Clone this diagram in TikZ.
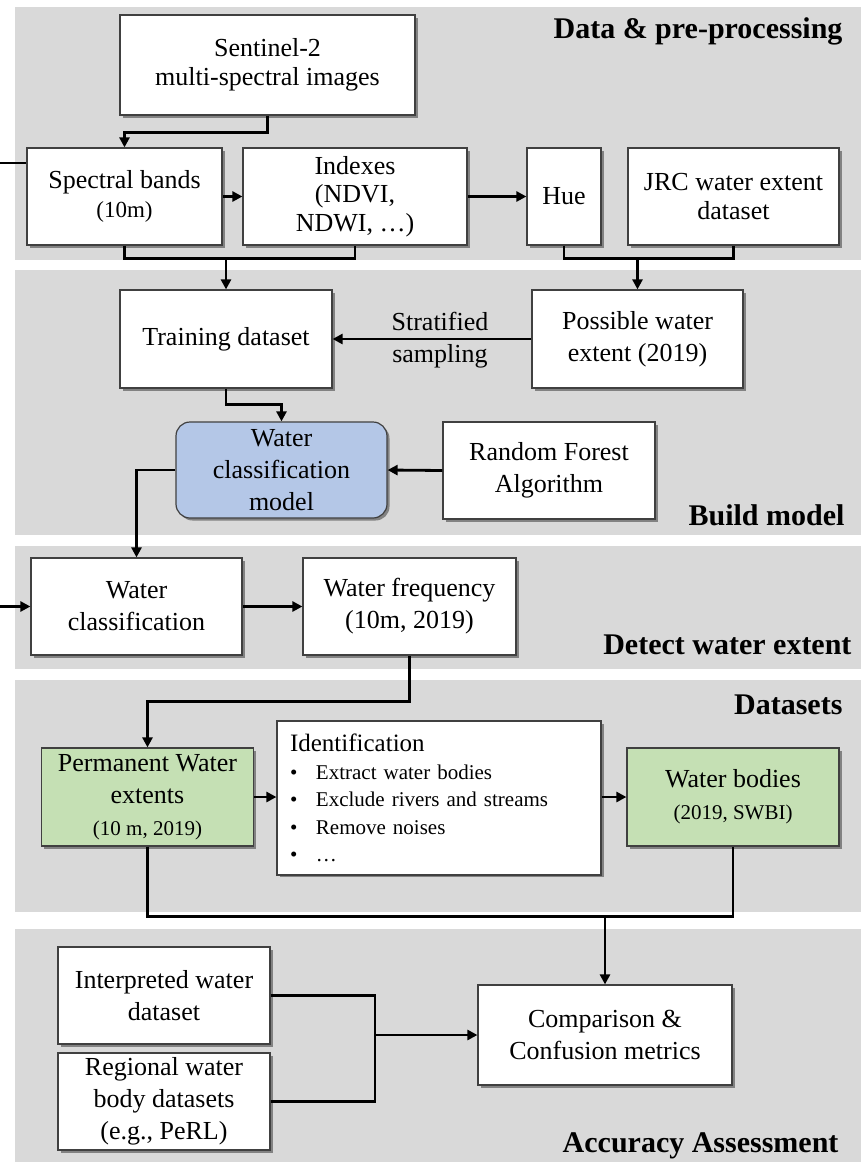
\documentclass[tikz,border=0pt]{standalone}
\usepackage{fontspec}
\setmainfont{Liberation Serif}
\usepackage{tikz}
\usetikzlibrary{arrows.meta, shadows}
\definecolor{panelGray}{HTML}{D9D9D9}
\definecolor{modelBlue}{HTML}{B4C7E7}
\definecolor{dataGreen}{HTML}{C5E0B4}
\definecolor{edgeGray}{HTML}{404040}
\newcommand{\smalltxt}{\fontsize{23}{26}\selectfont}
\newcommand{\tinytxt}{\fontsize{21}{24}\selectfont}

\begin{document}
\begin{tikzpicture}[x=1pt, y=-1pt,
    panel/.style={fill=panelGray, draw=none},
    box/.style={draw=edgeGray, line width=1.2pt, fill=white, align=center, inner sep=3pt,
        font=\fontsize{26}{28.5}\selectfont,
        drop shadow={shadow xshift=2.5pt, shadow yshift=-2.5pt, fill=black, opacity=0.4}},
    tallbox/.style={box, font=\fontsize{26}{32}\selectfont},
    heading/.style={anchor=east, font=\bfseries\fontsize{30}{34}\selectfont},
    link/.style={line width=2.8pt},
    arr/.style={link, -{Triangle[length=10pt, width=10pt]}}]
    \useasboundingbox (0,0) rectangle (861,1162);
    % grey panels
    \fill[panel] (15,7) rectangle (861,260);
    \fill[panel] (15,270) rectangle (861,535);
    \fill[panel] (15,546) rectangle (861,669);
    \fill[panel] (15,680) rectangle (861,912);
    \fill[panel] (15,929) rectangle (861,1162);
    \node[heading] (hData) at (846,31) {Data \& pre-processing};
    \node[heading] (hBuild) at (848,515) {Build model};
    \node[heading] (hDetect) at (855,645) {Detect water extent};
    \node[heading] (hSets) at (846,705) {Datasets};
    \node[heading] (hAcc) at (842,1146) {Accuracy Assessment};

    % data & pre-processing
    \node[box, minimum width=295pt, minimum height=100pt] (sentinel) at (267.5,65) {Sentinel-2\\multi-spectral images};
    \node[box, minimum width=195pt, minimum height=97pt] (bands) at (124.5,196.5) {Spectral bands\\{\smalltxt (10m)}};
    \node[box, minimum width=224pt, minimum height=97pt] (indexes) at (355,196.5) {Indexes\\(NDVI,\\NDWI, \dots)};
    \node[box, minimum width=74pt, minimum height=97pt] (hue) at (564,196.5) {Hue};
    \node[box, minimum width=211pt, minimum height=97pt] (jrc) at (733.5,196.5) {JRC water extent\\dataset};

    % build model
    \node[box, minimum width=212pt, minimum height=98pt] (training) at (226,339) {Training dataset};
    \node[tallbox, minimum width=211pt, minimum height=98pt] (possible) at (637.5,339) {Possible water\\extent (2019)};
    \node[tallbox, fill=modelBlue, rounded corners=14pt, minimum width=211pt, minimum height=96pt] (model) at (281.5,470) {Water\\classification\\model};
    \node[tallbox, minimum width=212pt, minimum height=97pt] (forest) at (549,470.5) {Random Forest\\Algorithm};

    % detect water extent
    \node[tallbox, minimum width=211pt, minimum height=97pt] (wclass) at (136.5,606.5) {Water\\classification};
    \node[tallbox, minimum width=213pt, minimum height=97pt] (wfreq) at (409.5,606.5) {Water frequency\\(10m, 2019)};

    % datasets
    \node[tallbox, fill=dataGreen, minimum width=212pt, minimum height=98pt] (permanent) at (147.5,797) {Permanent Water\\extents\\{\tinytxt (10 m, 2019)}};
    \node[box, align=left, text width=298pt, inner sep=13pt, minimum height=150pt, font=\fontsize{21}{27.5}\selectfont] (ident) at (439,798)
        {{\fontsize{25}{27.5}\selectfont Identification}\\
         \makebox[26pt][l]{\textbullet}Extract water bodies\\
         \makebox[26pt][l]{\textbullet}Exclude rivers and streams\\
         \makebox[26pt][l]{\textbullet}Remove noises\\
         \makebox[26pt][l]{\textbullet}\dots};
    \node[tallbox, fill=dataGreen, minimum width=212pt, minimum height=98pt] (wbodies) at (733,797) {Water bodies\\{\tinytxt (2019, SWBI)}};

    % accuracy assessment
    \node[tallbox, minimum width=212pt, minimum height=97pt] (interp) at (164,995.5) {Interpreted water\\dataset};
    \node[tallbox, minimum width=212pt, minimum height=97pt] (regional) at (164,1101.5) {Regional water\\body datasets\\(e.g., PeRL)};
    \node[tallbox, minimum width=254pt, minimum height=100pt] (compare) at (605,1035) {Comparison \&\\Confusion metrics};

    % connectors
    \coordinate (inA) at (0,163);
    \coordinate (inB) at (0,606.5);
    \draw[link] (inA) -- (bands.west |- inA);
    \draw[arr] (sentinel.south) -- ++(0,17) -| (bands.north);
    \draw[arr] (bands.east) -- (indexes.west);
    \draw[arr] (indexes.east) -- (hue.west);
    \draw[link] (bands.south) -- ++(0,13) -| (indexes.south);
    \draw[arr] (training.north |- bands.south) ++(0,13) -- (training.north);
    \draw[link] (hue.south) -- ++(0,13) -| (jrc.south);
    \draw[arr] (possible.north |- hue.south) ++(0,13) -- (possible.north);
    \draw[arr] (possible.west) -- (training.east)
        node[midway, xshift=8pt, yshift=-1pt, align=center, font=\fontsize{26}{32}\selectfont] (strat) {Stratified\\sampling};
    \draw[arr] (training.south) -- ++(0,16) -| (model.north);
    \draw[arr] (forest.west) -- (model.east);
    \draw[arr] (model.west) -| (wclass.north);
    \draw[arr] (inB) -- (wclass.west);
    \draw[arr] (wclass.east) -- (wfreq.west);
    \draw[arr] (wfreq.south) -- ++(0,46) -| (permanent.north);
    \draw[arr] (permanent.east) -- (ident.west |- permanent.east);
    \draw[arr] (ident.east |- wbodies.west) -- (wbodies.west);
    \draw[link] (permanent.south) -- ++(0,70) -| (wbodies.south);
    \draw[arr] (compare.north |- permanent.south) ++(0,70) -- (compare.north);
    \coordinate (jc) at (375,1035);
    \draw[link] (interp.east) -| (jc) |- (regional.east);
    \draw[arr] (jc) -- (compare.west);
\end{tikzpicture}
\end{document}
